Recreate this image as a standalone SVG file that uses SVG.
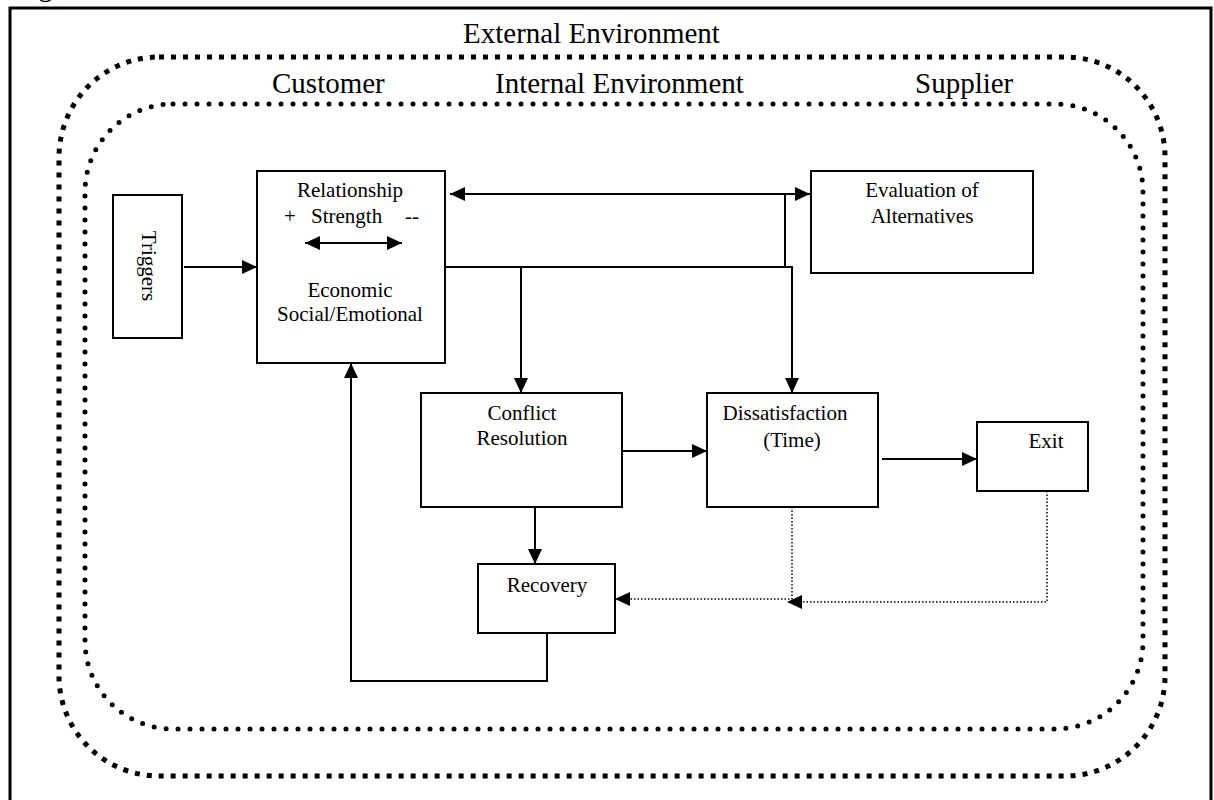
<svg xmlns="http://www.w3.org/2000/svg" width="1214" height="800" viewBox="0 0 1214 800">
<style>
.box{fill:#fff;stroke:#000;stroke-width:2}
.t{font-family:"Liberation Serif","Times New Roman",serif;font-size:21px;fill:#000}
.h{font-family:"Liberation Serif","Times New Roman",serif;font-size:29px;fill:#000}
.c{text-anchor:middle}
.ln{fill:none;stroke:#000;stroke-width:2}
.dl{fill:none;stroke:#000;stroke-width:1.5;stroke-dasharray:1.5 2}
</style>
<defs>
<marker id="ah" viewBox="0 0 15 14" refX="15" refY="7" markerWidth="15" markerHeight="14" markerUnits="userSpaceOnUse" orient="auto-start-reverse">
<path d="M0,0 L15,7 L0,14 z" fill="#000"/>
</marker>
</defs>
<rect width="1214" height="800" fill="#fff"/>
<text class="h" x="14" y="-4" font-size="26">Figure</text>
<path d="M10,800 V8 H1211 V800" fill="none" stroke="#000" stroke-width="3"/>
<g id="external-environment">
<rect x="59" y="57" width="1106" height="719" rx="100" ry="100" fill="none" stroke="#000" stroke-width="5" stroke-dasharray="5 7"/>
<text class="h" x="463" y="43">External Environment</text>
</g>
<g id="internal-environment">
<rect x="85" y="104" width="1058" height="625" rx="88" ry="88" fill="none" stroke="#000" stroke-width="5" stroke-dasharray="0 12" stroke-linecap="round"/>
<text class="h" x="272" y="93">Customer</text>
<text class="h" x="495" y="93">Internal Environment</text>
<text class="h" x="915" y="93">Supplier</text>
</g>
<g id="connectors">
<path class="ln" d="M184,267 H257" marker-end="url(#ah)"/>
<path class="ln" d="M450,194 H810" marker-start="url(#ah)" marker-end="url(#ah)"/>
<path class="ln" d="M785,194 V267"/>
<path class="ln" d="M445,267 H792 V393" marker-end="url(#ah)"/>
<path class="ln" d="M521,267 V393" marker-end="url(#ah)"/>
<path class="ln" d="M622,451 H707" marker-end="url(#ah)"/>
<path class="ln" d="M882,459 H977" marker-end="url(#ah)"/>
<path class="ln" d="M535,507 V564" marker-end="url(#ah)"/>
<path class="ln" d="M547,633 V681 H351 V363" marker-end="url(#ah)"/>
<path class="dl" d="M792,507 V599 H615" marker-end="url(#ah)"/>
<path class="dl" d="M1047,491 V602 H787" marker-end="url(#ah)"/>
</g>
<g id="triggers">
<rect class="box" x="113" y="195" width="69" height="143"/>
<text class="t c" transform="translate(149,266) rotate(90)" x="0" y="7">Triggers</text>
</g>
<g id="relationship">
<rect class="box" x="257" y="171" width="188" height="192"/>
<text class="t c" x="350" y="197">Relationship</text>
<text class="t" x="284" y="223">+</text>
<text class="t" x="311" y="223">Strength</text>
<text class="t" x="405" y="223">--</text>
<path class="ln" d="M305,243 H402" marker-start="url(#ah)" marker-end="url(#ah)"/>
<text class="t c" x="350" y="297">Economic</text>
<text class="t c" x="350" y="321">Social/Emotional</text>
</g>
<g id="evaluation">
<rect class="box" x="811" y="171" width="222" height="102"/>
<text class="t c" x="922" y="197">Evaluation of</text>
<text class="t c" x="922" y="223">Alternatives</text>
</g>
<g id="conflict">
<rect class="box" x="421" y="393" width="201" height="114"/>
<text class="t c" x="522" y="420">Conflict</text>
<text class="t c" x="522" y="445">Resolution</text>
</g>
<g id="dissatisfaction">
<rect class="box" x="707" y="393" width="171" height="114"/>
<text class="t c" x="785" y="420">Dissatisfaction</text>
<text class="t c" x="792" y="447">(Time)</text>
</g>
<g id="exit">
<rect class="box" x="977" y="422" width="111" height="69"/>
<text class="t c" x="1046" y="448">Exit</text>
</g>
<g id="recovery">
<rect class="box" x="478" y="564" width="137" height="69"/>
<text class="t c" x="547" y="592">Recovery</text>
</g>
</svg>
